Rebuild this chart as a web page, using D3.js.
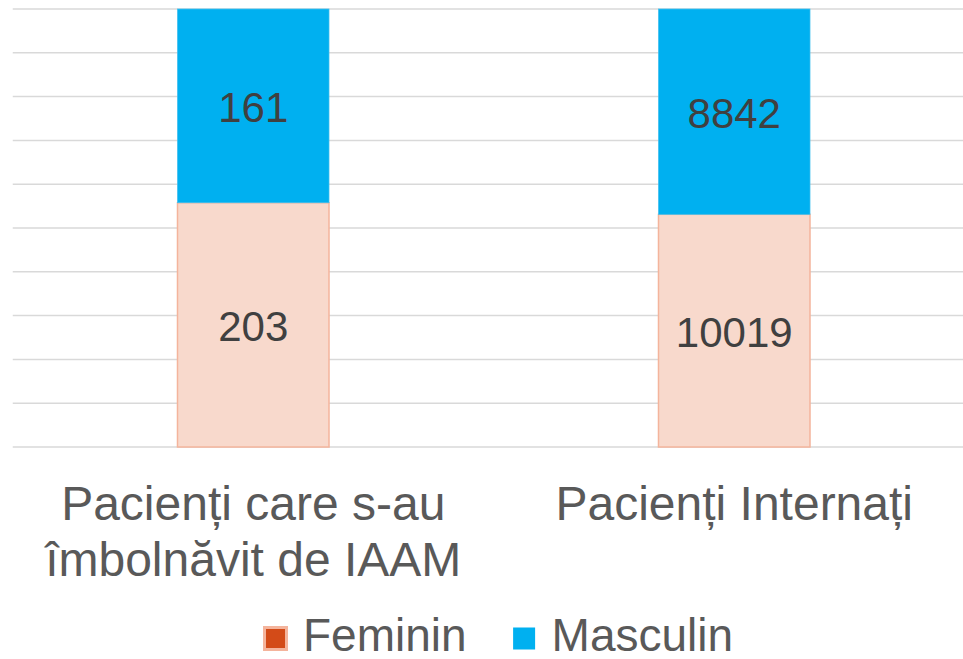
<!DOCTYPE html>
<html>
<head>
<meta charset="utf-8">
<script src="https://cdn.jsdelivr.net/npm/d3@7"></script>
<style>
  body { margin: 0; background: #ffffff; }
  svg { display: block; font-family: "Liberation Sans", Arial, sans-serif; }
</style>
</head>
<body>
<div id="chart"></div>
<script>
// Chart data
const CATEGORIES = ["Pacienți care s-au îmbolnăvit de IAAM", "Pacienți Internați"];
const SERIES = ["Feminin", "Masculin"];
const FEMININ = [203, 10019];
const MASCULIN = [161, 8842];
const Y_TICKS = [0, 0.1, 0.2, 0.3, 0.4, 0.5, 0.6, 0.7, 0.8, 0.9, 1];

// Frame size
const FRAME_WIDTH = 963;
const FRAME_HEIGHT = 659;
const PLOT = {left: 12.75, right: 974.75, top: 9, bottom: 447};

const COLORS = {
  Feminin: {fill: "#F8D9CC", stroke: "#F4B49C", swatch: "#D34B18"},
  Masculin: {fill: "#00B0F0", stroke: "#3FBFEF", swatch: "#00B0F0"}
};

const FRAME = d3.select("#chart")
  .append("svg")
    .attr("width", FRAME_WIDTH)
    .attr("height", FRAME_HEIGHT);

// Build rows for the stack
const rows = CATEGORIES.map((c, i) => ({cat: c, Feminin: FEMININ[i], Masculin: MASCULIN[i]}));
const stacked = d3.stack().keys(SERIES).offset(d3.stackOffsetExpand)(rows);

const X_SCALE = d3.scaleBand()
  .domain(CATEGORIES)
  .range([PLOT.left, PLOT.right])
  .paddingInner(0.685)
  .paddingOuter(0.3425);

const Y_SCALE = d3.scaleLinear()
  .domain([0, 1])
  .range([PLOT.bottom, PLOT.top]);

// Gridlines
FRAME.append("g")
  .selectAll("line")
  .data(Y_TICKS)
  .enter()
  .append("line")
    .attr("x1", PLOT.left)
    .attr("x2", PLOT.right)
    .attr("y1", d => Y_SCALE(d))
    .attr("y2", d => Y_SCALE(d))
    .attr("stroke", "#D9D9D9")
    .attr("stroke-width", 1.5);

// Bars
const layers = FRAME.append("g")
  .selectAll("g")
  .data(stacked)
  .enter()
  .append("g");

layers.selectAll("rect")
  .data(d => d.map(p => ({key: d.key, p: p})))
  .enter()
  .append("rect")
    .attr("x", d => X_SCALE(d.p.data.cat))
    .attr("y", d => Y_SCALE(d.p[1]))
    .attr("width", X_SCALE.bandwidth())
    .attr("height", d => Y_SCALE(d.p[0]) - Y_SCALE(d.p[1]))
    .attr("fill", d => COLORS[d.key].fill)
    .attr("stroke", d => COLORS[d.key].stroke)
    .attr("stroke-width", d => d.key === "Feminin" ? 1.5 : 0.75);

// Data labels
layers.selectAll("text")
  .data(d => d.map(p => ({key: d.key, p: p})))
  .enter()
  .append("text")
    .attr("x", d => X_SCALE(d.p.data.cat) + X_SCALE.bandwidth() / 2)
    .attr("y", d => (Y_SCALE(d.p[0]) + Y_SCALE(d.p[1])) / 2 + 16)
    .attr("text-anchor", "middle")
    .attr("fill", "#404040")
    .style("font-size", "42px")
    .text(d => d.p.data[d.key]);

// Category labels, wrapped to the band step
const catText = FRAME.append("g")
  .selectAll("text")
  .data(CATEGORIES)
  .enter()
  .append("text")
    .attr("x", d => X_SCALE(d) + X_SCALE.bandwidth() / 2)
    .attr("y", 520)
    .attr("text-anchor", "middle")
    .attr("fill", "#595959")
    .style("font-size", "48px");

catText.each(function(d) {
  const t = d3.select(this);
  const x = t.attr("x");
  const words = d.split(" ");
  let line = [];
  let tspan = t.append("tspan").attr("x", x).attr("dy", 0);
  words.forEach(w => {
    line.push(w);
    tspan.text(line.join(" "));
    if (tspan.node().getComputedTextLength() > 460 && line.length > 1) {
      line.pop();
      tspan.text(line.join(" "));
      line = [w];
      tspan = t.append("tspan").attr("x", x).attr("dy", 56).text(w);
    }
  });
});

// Legend
const legend = FRAME.append("g");
let lx = 263;
SERIES.forEach(s => {
  legend.append("rect")
    .attr("x", lx + 1.5)
    .attr("y", 627.5)
    .attr("width", 22)
    .attr("height", 22)
    .attr("fill", COLORS[s].swatch)
    .attr("stroke", s === "Feminin" ? "#F4B49C" : "none")
    .attr("stroke-width", 3);
  const txt = legend.append("text")
    .attr("x", lx + 40)
    .attr("y", 651)
    .attr("fill", "#595959")
    .style("font-size", "46px")
    .text(s);
  lx = lx + 40 + txt.node().getComputedTextLength() + 45;
});
</script>
</body>
</html>
